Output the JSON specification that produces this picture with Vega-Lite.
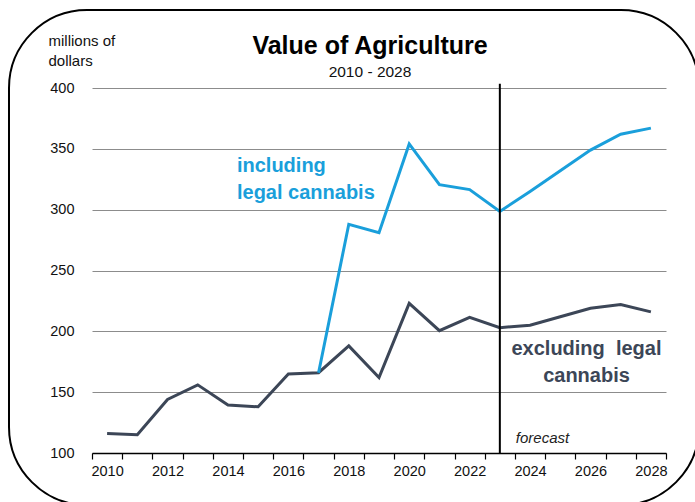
{
  "$schema": "https://vega.github.io/schema/vega-lite/v6.json",
  "description": "Value of Agriculture, 2010 - 2028, including and excluding legal cannabis.",
  "width": 574,
  "height": 365,
  "autosize": "none",
  "padding": {"left": 92, "top": 88, "right": 29, "bottom": 49},
  "background": "white",
  "title": {
    "text": "Value of Agriculture",
    "subtitle": "2010 - 2028",
    "font": "Liberation Sans",
    "fontSize": 25,
    "fontWeight": "bold",
    "color": "#000",
    "subtitleFont": "Liberation Sans",
    "subtitleFontSize": 15.5,
    "subtitleColor": "#111",
    "subtitlePadding": 6,
    "anchor": "middle",
    "frame": "group",
    "dx": -9,
    "offset": -72
  },
  "config": {
    "view": {"stroke": null},
    "axis": {"labelFont": "Liberation Sans", "titleFont": "Liberation Sans", "labelColor": "#111"}
  },
  "datasets": {
    "series": [
      {"year": 2010, "value": 116, "series": "excluding"},
      {"year": 2011, "value": 115, "series": "excluding"},
      {"year": 2012, "value": 144, "series": "excluding"},
      {"year": 2013, "value": 156, "series": "excluding"},
      {"year": 2014, "value": 139.5, "series": "excluding"},
      {"year": 2015, "value": 138, "series": "excluding"},
      {"year": 2016, "value": 165, "series": "excluding"},
      {"year": 2017, "value": 166, "series": "excluding"},
      {"year": 2018, "value": 188, "series": "excluding"},
      {"year": 2019, "value": 162, "series": "excluding"},
      {"year": 2020, "value": 223, "series": "excluding"},
      {"year": 2021, "value": 200.5, "series": "excluding"},
      {"year": 2022, "value": 211.5, "series": "excluding"},
      {"year": 2023, "value": 203, "series": "excluding"},
      {"year": 2024, "value": 205, "series": "excluding"},
      {"year": 2025, "value": 212, "series": "excluding"},
      {"year": 2026, "value": 219, "series": "excluding"},
      {"year": 2027, "value": 222, "series": "excluding"},
      {"year": 2028, "value": 216, "series": "excluding"},
      {"year": 2017, "value": 166, "series": "including"},
      {"year": 2018, "value": 288, "series": "including"},
      {"year": 2019, "value": 281, "series": "including"},
      {"year": 2020, "value": 354, "series": "including"},
      {"year": 2021, "value": 320.5, "series": "including"},
      {"year": 2022, "value": 316.5, "series": "including"},
      {"year": 2023, "value": 298.5, "series": "including"},
      {"year": 2024, "value": 315, "series": "including"},
      {"year": 2025, "value": 332, "series": "including"},
      {"year": 2026, "value": 349, "series": "including"},
      {"year": 2027, "value": 362, "series": "including"},
      {"year": 2028, "value": 367, "series": "including"}
    ],
    "blueNotes": [
      {"year": 2014, "value": 336, "label": "including"},
      {"year": 2014, "value": 313.4, "label": "legal cannabis"}
    ],
    "darkNotes": [
      {"year": 2026, "value": 185.5, "label": "excluding\u00a0 legal"},
      {"year": 2026, "value": 163.5, "label": "cannabis"}
    ],
    "forecast": [
      {"year": 2023, "lo": 100, "hi": 403.5, "label": "forecast", "labelValue": 112.5}
    ],
    "frame": [
      {"x1": -0.1446, "x2": 1.0575, "y1": -0.1425, "y2": 1.2137}
    ]
  },
  "layer": [
    {
      "encoding": {
        "x": {
          "field": "year",
          "type": "ordinal",
          "scale": {"type": "band", "paddingInner": 0, "paddingOuter": 0},
          "axis": {
            "title": null,
            "labelAngle": 0,
            "labelFontSize": 14.5,
            "labelPadding": 5,
            "labelExpr": "datum.value % 2 == 0 ? datum.label : ''",
            "tickBand": "extent",
            "tickColor": "#000",
            "tickSize": 6,
            "tickWidth": 1.2,
            "domainColor": "#000",
            "domainWidth": 1.5,
            "grid": false
          }
        },
        "y": {
          "type": "quantitative",
          "scale": {"domain": [100, 400], "nice": false},
          "axis": {
            "values": [100, 150, 200, 250, 300, 350, 400],
            "labelFontSize": 14.5,
            "labelPadding": 18,
            "ticks": false,
            "domain": false,
            "grid": true,
            "gridColor": "#8c8c8c",
            "gridWidth": 1,
            "title": ["millions of", "dollars"],
            "titleAngle": 0,
            "titleAlign": "left",
            "titleBaseline": "alphabetic",
            "titleX": -44,
            "titleY": -43,
            "titleFontSize": 15,
            "titleFontWeight": "normal",
            "titleLineHeight": 20,
            "titleColor": "#111"
          }
        }
      },
      "layer": [
        {
          "data": {"name": "series"},
          "mark": {"type": "line", "strokeWidth": 3, "strokeJoin": "miter"},
          "encoding": {
            "y": {"field": "value"},
            "color": {
              "field": "series",
              "type": "nominal",
              "scale": {"domain": ["including", "excluding"], "range": ["#1a9fdb", "#3c4657"]},
              "legend": null
            }
          }
        },
        {
          "data": {"name": "forecast"},
          "mark": {"type": "rule", "color": "#000", "strokeWidth": 2},
          "encoding": {
            "y": {"field": "lo"},
            "y2": {"field": "hi"}
          }
        },
        {
          "data": {"name": "forecast"},
          "mark": {"type": "text", "align": "left", "baseline": "middle", "dx": 16, "font": "Liberation Sans", "fontSize": 15, "fontStyle": "italic", "color": "#222"},
          "encoding": {
            "y": {"field": "labelValue"},
            "text": {"field": "label"}
          }
        },
        {
          "data": {"name": "blueNotes"},
          "mark": {"type": "text", "align": "left", "baseline": "middle", "dx": 9, "font": "Liberation Sans", "fontSize": 20, "fontWeight": "bold", "color": "#1a9fdb"},
          "encoding": {
            "y": {"field": "value"},
            "text": {"field": "label"}
          }
        },
        {
          "data": {"name": "darkNotes"},
          "mark": {"type": "text", "align": "center", "baseline": "middle", "dx": -4, "font": "Liberation Sans", "fontSize": 20, "fontWeight": "bold", "color": "#3c4657"},
          "encoding": {
            "y": {"field": "value"},
            "text": {"field": "label"}
          }
        }
      ]
    },
    {
      "data": {"name": "frame"},
      "mark": {"type": "rect", "fill": null, "stroke": "#000", "strokeWidth": 2, "cornerRadius": 78},
      "encoding": {
        "x": {"field": "x1", "type": "quantitative", "scale": {"domain": [0, 1], "nice": false, "zero": false}, "axis": null},
        "x2": {"field": "x2"},
        "y": {"field": "y1", "type": "quantitative", "scale": {"domain": [0, 1], "nice": false, "zero": false}, "axis": null},
        "y2": {"field": "y2"}
      }
    }
  ],
  "resolve": {"scale": {"x": "independent", "y": "independent"}}
}
